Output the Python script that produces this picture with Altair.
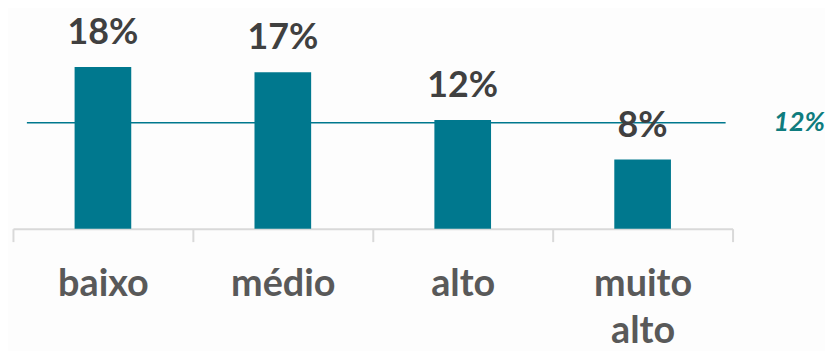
import altair as alt
import pandas as pd

categories = ["baixo", "médio", "alto", "muito alto"]
values = [18.0, 17.4, 12.1, 7.7]
labels = ["18%", "17%", "12%", "8%"]
ref_value = [11.8]
ref_label = ["12%"]

df = pd.DataFrame({"cat": categories, "val": values, "lab": labels})
ref = pd.DataFrame({"v": ref_value, "lab": ref_label})

FONT = "Lato"
TEAL = "#00788E"

x = alt.X(
    "cat:N",
    sort=categories,
    title=None,
    scale=alt.Scale(paddingInner=0, paddingOuter=0),
    axis=alt.Axis(
        labelAngle=0,
        labelFont=FONT,
        labelFontSize=38,
        labelFontWeight="bold",
        labelColor="#595959",
        labelPadding=24,
        labelLineHeight=48,
        labelExpr="datum.label == 'muito alto' ? ['muito', 'alto'] : datum.label",
        domainColor="#D9D9D9",
        domainWidth=2,
        tickColor="#D9D9D9",
        tickWidth=2,
        tickSize=13,
        tickBand="extent",
        grid=False,
    ),
)
y_scale = alt.Scale(domain=[0, 24], nice=False)

bars = alt.Chart(df).mark_bar(color=TEAL, size=57).encode(
    x=x,
    y=alt.Y("val:Q", scale=y_scale, axis=None),
)

text = alt.Chart(df).mark_text(
    font=FONT, fontSize=36, fontWeight="bold", color="#404040",
    baseline="alphabetic", dy=-23,
).encode(
    x=alt.X("cat:N", sort=categories),
    y=alt.Y("val:Q", scale=y_scale),
    text="lab:N",
)

rule = alt.Chart(ref).mark_rule(color=TEAL, strokeWidth=1.5).encode(
    y=alt.Y("v:Q", scale=y_scale),
    x=alt.value(14),
    x2=alt.value(717),
)

ref_text = alt.Chart(ref).mark_text(
    font=FONT, fontSize=27, fontWeight="bold", fontStyle="italic",
    color="#0E7C7E", align="center", baseline="middle",
).encode(
    y=alt.Y("v:Q", scale=y_scale),
    x=alt.value(791),
    text="lab:N",
)

chart = (
    alt.layer(bars, rule, text, ref_text)
    .properties(
        width=724,
        height=217,
        padding={"left": 4, "top": 4, "right": 0, "bottom": 0},
        background="#FDFDFD",
    )
    .configure_view(stroke=None)
)

chart.save("out.html", embed_options={"renderer": "svg", "actions": False})
